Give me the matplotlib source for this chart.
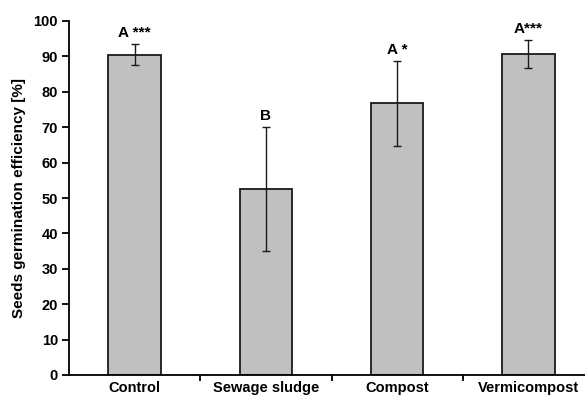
import numpy as np
import matplotlib.pyplot as plt
from matplotlib.ticker import FixedLocator

# data
treatments = ["Control", "Sewage sludge", "Compost", "Vermicompost"]
germination = [90.5, 52.5, 76.7, 90.6]
sd = [2.9, 17.5, 12.0, 4.0]
letters = ["A ***", "B", "A *", "A***"]

plt.rcParams['font.family'] = ['Liberation Sans', 'DejaVu Sans']
plt.rcParams['font.weight'] = 'bold'

fig = plt.figure(figsize=(5.85, 3.98), dpi=100)
# axes is wider than the figure on purpose: the reference is cropped on the right
ax = fig.add_axes([69/585, (398-375)/398, 525/585, 354/398])

xpos = np.arange(len(treatments))
ax.bar(xpos, germination, width=0.4, color="#c0c0c0", edgecolor="#1a1a1a", linewidth=1.3, zorder=2)
ax.errorbar(xpos, germination, yerr=sd, fmt="none", ecolor="#1a1a1a", elinewidth=1.0,
            capsize=3, capthick=1.0, zorder=3)

for i in range(len(treatments)):
    ax.text(xpos[i], germination[i] + sd[i] + 1.2, letters[i], ha="center", va="bottom",
            fontsize=11, fontweight="bold")

ax.set_xlim(-0.5, 3.5)
ax.set_ylim(0, 100)
ax.set_yticks(np.arange(0, 101, 10))
ax.set_xticks(xpos)
ax.set_xticklabels(treatments, fontsize=10.5, fontweight="bold")
ax.xaxis.set_minor_locator(FixedLocator([0.5, 1.5, 2.5]))
ax.tick_params(axis="x", which="major", length=0, pad=4.5)
ax.tick_params(axis="x", which="minor", length=4, width=1.3, direction="out")
ax.tick_params(axis="y", length=5, width=1.3, direction="out", labelsize=10.5, pad=3)
for lab in ax.get_yticklabels():
    lab.set_fontweight("bold")

ax.spines["top"].set_visible(False)
ax.spines["right"].set_visible(False)
ax.spines["left"].set_linewidth(1.3)
ax.spines["bottom"].set_linewidth(1.3)

ax.set_ylabel("Seeds germination efficiency [%]", fontsize=11, fontweight="bold", labelpad=5)

fig.savefig("out.png", dpi=100)
